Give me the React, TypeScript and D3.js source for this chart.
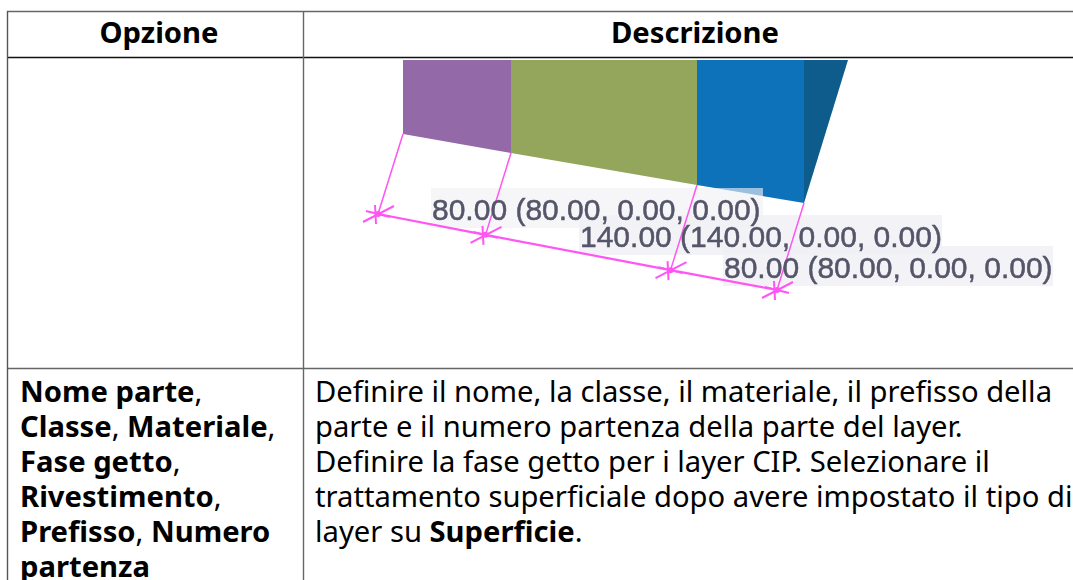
import React from "react";
import * as d3 from "d3";

const headers = ["Opzione", "Descrizione"];
const segmentNames = ["purple", "green", "blue"];
const segmentLengths = [80, 140, 80];
const segmentColors = ["#9469a8", "#94a65c", "#0b72b9"];
const stopX = [403, 511, 697, 804];
const stopY = [134, 153, 185, 203];
const dimensionLabels = [
  "80.00 (80.00, 0.00, 0.00)",
  "140.00 (140.00, 0.00, 0.00)",
  "80.00 (80.00, 0.00, 0.00)",
];
const labelLeft = [432, 580, 724];
const labelBaseline = [220, 247, 278];
const labelBgWidth = [332, 363, 330];
type Run = [string, boolean];
const optionLines: Run[][] = [
  [["Nome parte", true], [",", false]],
  [["Classe", true], [", ", false], ["Materiale", true], [",", false]],
  [["Fase getto", true], [",", false]],
  [["Rivestimento", true], [",", false]],
  [["Prefisso", true], [", ", false], ["Numero", true]],
  [["partenza", true]],
];
const descriptionLines: Run[][] = [
  [["Definire il nome, la classe, il materiale, il prefisso della", false]],
  [["parte e il numero partenza della parte del layer.", false]],
  [["Definire la fase getto per i layer CIP. Selezionare il", false]],
  [["trattamento superficiale dopo avere impostato il tipo di", false]],
  [["layer su ", false], ["Superficie", true], [".", false]],
];

const W = 1073, H = 580;
const total = d3.sum(segmentLengths);
const cumul = d3.cumsum(segmentLengths);
const stops = [0, ...Array.from(cumul)];
const x = d3.scaleLinear().domain(stops).range(stopX);
const yBottom = d3.scaleLinear().domain(stops).range(stopY);
const top = 60;
const dimDx = d3.scaleLinear().domain([0, total]).range([-25, -27]);
const dimDy = d3.scaleLinear().domain([0, total]).range([80, 87]);
const font = "'Noto Sans', sans-serif";
const line = d3.line();
const pink = "#ff55f2";

function Tick({ cx, cy }: { cx: number; cy: number }) {
  const arms: [number, number, number, number][] = [
    [-15, 8, 16, -8], [-3, -9, -2, 10], [-12, -3, 12, 3],
  ];
  return (
    <g>
      {arms.map((a, i) => (
        <path key={i} d={line([[cx + a[0], cy + a[1]], [cx + a[2], cy + a[3]]]) ?? ""} stroke={pink} strokeWidth={2} fill="none" />
      ))}
      <circle cx={cx} cy={cy} r={3} fill={pink} />
    </g>
  );
}

function TextLines({ lines, tx, y0, lh }: { lines: Run[][]; tx: number; y0: number; lh: number }) {
  return (
    <>
      {lines.map((runs, i) => (
        <text key={i} x={tx} y={y0 + i * lh} fontFamily={font} fontSize={29.2} fill="#000">
          {runs.map((r, j) => (
            <tspan key={j} fontWeight={r[1] ? 700 : 400}>{r[0]}</tspan>
          ))}
        </text>
      ))}
    </>
  );
}

export default function App() {
  const ends = stops.map((s) => ({
    bx: x(s), by: yBottom(s), dx: x(s) + dimDx(s), dy: yBottom(s) + dimDy(s),
  }));
  return (
    <svg width={W} height={H} viewBox={`0 0 ${W} ${H}`} style={{ position: "absolute", left: 0, top: 0, display: "block", background: "#fff" }}>
      <defs>
        <filter id="soft" x="-5%" y="-5%" width="110%" height="110%">
          <feGaussianBlur stdDeviation="0.75" />
        </filter>
      </defs>

      <g filter="url(#soft)">
        {segmentNames.map((n, i) => (
          <path key={n} fill={segmentColors[i]}
            d={(line([[x(stops[i]), top], [x(stops[i + 1]), top], [x(stops[i + 1]), yBottom(stops[i + 1])], [x(stops[i]), yBottom(stops[i])]]) ?? "") + "Z"} />
        ))}
        <path fill="#0b5c8c" d={(line([[x(total), top], [848, top], [x(total), yBottom(total)]]) ?? "") + "Z"} />
        {dimensionLabels.map((_, i) => (
          <rect key={i} x={labelLeft[i] - 1} y={labelBaseline[i] - 32} width={labelBgWidth[i]} height={40} fill="#f1f1f6" fillOpacity={i === 0 ? 0.62 : 0.85} />
        ))}
        {ends.map((e, i) => (
          <path key={i} d={line([[e.bx, e.by], [e.dx, e.dy]]) ?? ""} stroke={pink} strokeWidth={1.5} fill="none" />
        ))}
        <path d={line(ends.map((e) => [e.dx, e.dy] as [number, number])) ?? ""} stroke={pink} strokeWidth={2.2} fill="none" />
        {dimensionLabels.map((t, i) => (
          <text key={i} x={labelLeft[i]} y={labelBaseline[i]} fontFamily="'Liberation Sans', Arial, sans-serif" fontSize={30} fill="#55556a" stroke="#55556a" strokeWidth={0.5}>{t}</text>
        ))}
        {ends.map((e, i) => <Tick key={i} cx={e.dx} cy={e.dy} />)}
      </g>

      <path d="M7 11.5H1073" stroke="#666" strokeWidth={1.4} />
      <path d="M7 57.5H1073" stroke="#111" strokeWidth={1.4} />
      <path d="M7 368.5H1073" stroke="#666" strokeWidth={1.4} />
      <path d="M7.5 11V580" stroke="#555" strokeWidth={1.4} />
      <path d="M303.5 11V580" stroke="#666" strokeWidth={1.4} />

      <text x={159} y={43} textAnchor="middle" fontFamily={font} fontSize={29.2} fontWeight={700}>{headers[0]}</text>
      <text x={695} y={43} textAnchor="middle" fontFamily={font} fontSize={29.2} fontWeight={700}>{headers[1]}</text>
      <TextLines lines={optionLines} tx={20} y0={402} lh={35} />
      <TextLines lines={descriptionLines} tx={315} y0={402} lh={35} />
    </svg>
  );
}
